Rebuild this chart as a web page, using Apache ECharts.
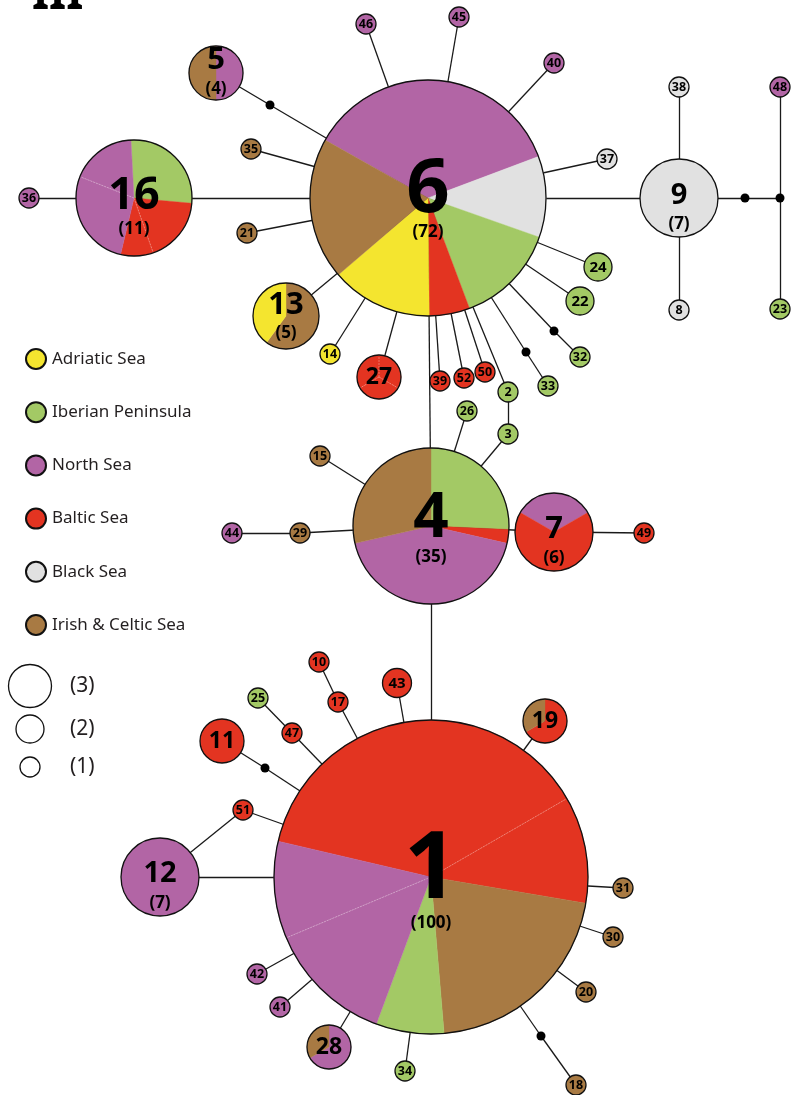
<!DOCTYPE html>
<html>
<head>
<meta charset="utf-8">
<style>html,body{margin:0;padding:0;background:#fff;}#main{width:791px;height:1095px;}</style>
<script src="https://cdn.jsdelivr.net/npm/echarts@6/dist/echarts.min.js"></script>
</head>
<body>
<div id="main"></div>
<script>
// ---------------- DATA ----------------
const regions = ['Adriatic Sea', 'Iberian Peninsula', 'North Sea', 'Baltic Sea', 'Black Sea', 'Irish & Celtic Sea'];

const hapIds = ['1','4','6','9','16','5','13','7','12','27','11','19','28','43','24','22',
  '38','8','48','23','37','40','45','46','35','21','36','14','39','52','50','2','3','26','33','32',
  '15','29','44','49','10','17','25','47','51','31','30','20','18','34','41','42'];

// slices per haplotype: [regionIndex, count], clockwise
const hapSlices = [
  [[3,38],[3,11],[5,21],[1,7],[2,13],[2,10]], // 1
  [[1,9],[3,1],[2,15],[5,10]],                 // 4
  [[2,26],[4,8],[1,10],[3,4],[0,10],[5,14]],   // 6
  [[4,7]],                                     // 9
  [[1,3],[3,2],[3,1],[2,3],[2,2]],             // 16
  [[2,2],[5,2]],                               // 5
  [[5,3],[0,2]],                               // 13
  [[2,2],[3,4]],                               // 7
  [[2,7]],                                     // 12
  [[3,1],[3,1],[3,1]],                         // 27
  [[3,3]],                                     // 11
  [[3,2],[5,1]],                               // 19
  [[2,2],[5,1]],                               // 28
  [[3,2]],                                     // 43
  [[1,2]],                                     // 24
  [[1,2]],                                     // 22
  [[4,1]],[[4,1]],[[2,1]],[[1,1]],[[4,1]],[[2,1]],[[2,1]],[[2,1]], // 38 8 48 23 37 40 45 46
  [[5,1]],[[5,1]],[[2,1]],[[0,1]],[[3,1]],[[3,1]],[[3,1]],         // 35 21 36 14 39 52 50
  [[1,1]],[[1,1]],[[1,1]],[[1,1]],[[1,1]],                         // 2 3 26 33 32
  [[5,1]],[[5,1]],[[2,1]],[[3,1]],[[3,1]],[[3,1]],[[1,1]],[[3,1]],[[3,1]], // 15 29 44 49 10 17 25 47 51
  [[5,1]],[[5,1]],[[5,1]],[[5,1]],[[1,1]],[[2,1]],[[2,1]]          // 31 30 20 18 34 41 42
];

const medianIds = ['mv1','mv2','mv3','mv4','mv5','mv6','mv7'];

const edges = [
  ['6','9'],['9','38'],['9','8'],['9','mv2'],['mv2','mv3'],['mv3','48'],['mv3','23'],
  ['6','37'],['6','40'],['6','45'],['6','46'],['6','mv1'],['mv1','5'],['6','35'],['6','21'],
  ['6','16'],['16','36'],['6','13'],['6','14'],['6','27'],['6','39'],['6','52'],['6','50'],
  ['6','2'],['2','3'],['3','4'],['6','mv4'],['mv4','33'],['6','mv5'],['mv5','32'],['6','22'],['6','24'],
  ['6','4'],['4','26'],['4','15'],['4','29'],['29','44'],['4','7'],['7','49'],['4','1'],
  ['1','43'],['1','17'],['17','10'],['1','47'],['47','25'],['1','mv6'],['mv6','11'],['1','19'],
  ['1','51'],['51','12'],['1','12'],['1','31'],['1','30'],['1','20'],['1','mv7'],['mv7','18'],
  ['1','34'],['1','28'],['1','41'],['1','42']
];

const sizeLegend = ['(3)', '(2)', '(1)'];

// ---------------- LAYOUT / STYLE ----------------
const regionColors = ['#F4E52F', '#A3C965', '#B265A5', '#E33421', '#E1E1E1', '#A87A43'];

const nodePos = {
  '1':[431,877],'4':[431,526],'6':[428,198],'9':[679,198],'16':[134,198],'5':[216,73],'13':[286,316],
  '7':[554,532],'12':[160,877],'27':[379,377],'11':[222,741],'19':[545,721],'28':[329,1047],
  '43':[397,683],'24':[598,267],'22':[580,301],
  '38':[679,87],'8':[679,310],'48':[780,87],'23':[780,309],'37':[607,159],'40':[554,63],'45':[459,17],
  '46':[366,24],'35':[251,149],'21':[247,233],'36':[29,198],'14':[330,354],'39':[440,381],'52':[464,378],
  '50':[485,372],'2':[508,392],'3':[508,434],'26':[467,411],'33':[548,386],'32':[580,357],'15':[320,456],
  '29':[300,533],'44':[232,533],'49':[644,533],'10':[319,662],'17':[338,702],'25':[258,698],'47':[292,733],
  '51':[243,810],'31':[623,888],'30':[613,937],'20':[586,992],'18':[576,1085],'34':[405,1071],
  '41':[280,1007],'42':[257,974],
  'mv1':[270,105],'mv2':[745,198],'mv3':[780,198],'mv4':[526,352],'mv5':[554,331],'mv6':[265,768],'mv7':[541,1036]
};
const nodeRadius = {'1':157,'4':78,'6':118,'9':39,'16':58,'5':27,'13':33,'7':39,'12':39,
  '27':22,'11':22,'19':22,'28':22,'43':14.5,'24':14,'22':14};
const startAngle = {'1':283.2,'6':299.4,'16':357,'7':300};
// [id font size, id dy, count dy]
const bigLabel = {'1':[94,-6,46],'6':[76,-8,34],'4':[62,-7,31],'16':[45,-2,31],'9':[29,-2,26],
  '12':[29,-3,26],'7':[31,-3,26],'13':[31,-11,17],'5':[31,-13,16]};
const FONT = '"Noto Sans", "DejaVu Sans", sans-serif';

function totalOf(i){ return hapSlices[i].reduce((s,d)=>s+d[1],0); }

const chart = echarts.init(document.getElementById('main'), null, {renderer:'canvas'});

const nodeData = hapIds.map((id,i)=>[nodePos[id][0], nodePos[id][1], nodeRadius[id] || 10, i]);

function renderNode(params, api){
  const i = api.value(3);
  const id = hapIds[i];
  const c = api.coord([api.value(0), api.value(1)]);
  const r = api.size([api.value(2), 0])[0];
  const slices = hapSlices[i];
  const total = totalOf(i);
  const children = [];
  let a = startAngle[id] || 0;
  const seams = [];
  if (slices.length === 1) {
    children.push({type:'circle', shape:{cx:c[0], cy:c[1], r:r}, style:{fill:regionColors[slices[0][0]]}});
  } else {
    slices.forEach((s,k)=>{
      const span = s[1]/total*360;
      const sa = (a-90)*Math.PI/180, ea = (a+span-90)*Math.PI/180;
      children.push({type:'sector', shape:{cx:c[0], cy:c[1], r0:0, r:r, startAngle:sa, endAngle:ea, clockwise:true},
        style:{fill:regionColors[s[0]], stroke:regionColors[s[0]], lineWidth:0.4}});
      const prev = slices[(k-1+slices.length)%slices.length];
      if (prev[0] === s[0]) seams.push(sa);
      a += span;
    });
    seams.forEach(sa=>{
      children.push({type:'line', shape:{x1:c[0], y1:c[1], x2:c[0]+r*Math.cos(sa), y2:c[1]+r*Math.sin(sa)},
        style:{stroke:'rgba(255,255,255,0.45)', lineWidth:0.7, lineDash:[2,1]}});
    });
  }
  children.push({type:'circle', shape:{cx:c[0], cy:c[1], r:r}, style:{fill:null, stroke:'#111', lineWidth:1.3}});
  const bl = bigLabel[id];
  if (bl) {
    children.push({type:'text', x:c[0], y:c[1]+bl[1], style:{text:id, font:'bold '+bl[0]+'px '+FONT,
      fill:'#000', align:'center', verticalAlign:'middle', textAlign:'center', textVerticalAlign:'middle'}});
    children.push({type:'text', x:c[0], y:c[1]+bl[2], style:{text:'('+total+')', font:'bold 17px '+FONT,
      fill:'#000', align:'center', verticalAlign:'middle', textAlign:'center', textVerticalAlign:'middle'}});
  } else {
    const fs = total >= 3 ? 23 : (total === 2 ? 15 : 12.5);
    children.push({type:'text', x:c[0], y:c[1]+0.5, style:{text:id, font:'bold '+fs+'px '+FONT,
      fill:'#000', align:'center', verticalAlign:'middle', textAlign:'center', textVerticalAlign:'middle'}});
  }
  return {type:'group', children:children};
}

const legendSeries = regions.map((name,i)=>({
  type:'scatter', name:name, data:[], itemStyle:{color:regionColors[i], opacity:1, borderColor:'#111', borderWidth:1.2}
}));

const sizeR = [21.5, 14, 10];
const sizeY = [686, 729, 767];
const graphic = [
  {type:'text', left:32, top:-26, style:{text:'III', font:'bold 44px '+FONT, fill:'#000'}}
];
sizeLegend.forEach((t,k)=>{
  graphic.push({type:'circle', shape:{cx:30, cy:sizeY[k], r:sizeR[k]}, style:{fill:'#fff', stroke:'#111', lineWidth:1.3}});
  graphic.push({type:'text', x:70, y:sizeY[k], style:{text:t, font:'21px '+FONT, fill:'#231f20', verticalAlign:'middle', textVerticalAlign:'middle'}});
});

chart.setOption({
  animation:false,
  backgroundColor:'#fff',
  grid:{left:0, right:0, top:0, bottom:0},
  xAxis:{type:'value', min:0, max:791, show:false},
  yAxis:{type:'value', min:0, max:1095, inverse:true, show:false},
  legend:{
    data:regions, orient:'vertical', left:20, top:343, itemGap:31.2, itemWidth:20, itemHeight:20, icon:'circle',
    selectedMode:false,
    itemStyle:{opacity:1},
    textStyle:{fontSize:17, fontFamily:FONT, color:'#231f20', padding:[0,0,0,1]}
  },
  graphic:graphic,
  series:[
    {type:'lines', coordinateSystem:'cartesian2d', silent:true, z:1,
      data:edges.map(e=>({coords:[nodePos[e[0]], nodePos[e[1]]]})),
      lineStyle:{color:'#1a1a1a', width:1.3, opacity:1}},
    {type:'scatter', silent:true, z:2, symbolSize:9, itemStyle:{color:'#000', opacity:1},
      data:medianIds.map(id=>nodePos[id])},
    {type:'custom', silent:true, z:3, renderItem:renderNode, data:nodeData,
      encode:{x:0, y:1}, clip:false}
  ].concat(legendSeries)
});
</script>
</body>
</html>
